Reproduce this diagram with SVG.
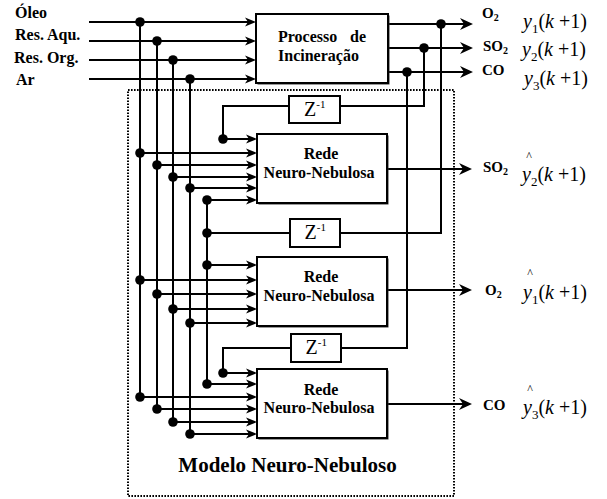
<svg xmlns="http://www.w3.org/2000/svg" width="607" height="499" viewBox="0 0 607 499">
<style>
.ln{stroke:#000;stroke-width:2;fill:none}
.box{fill:#fff;stroke:#000;stroke-width:2}
.sh{fill:#333}
.dot{fill:#000}
.b{font-family:"Liberation Serif",serif;font-weight:bold;font-size:16px;fill:#000}
.o{font-family:"Liberation Serif",serif;font-weight:bold;font-size:15px;fill:#000}
.m{font-family:"Liberation Serif",serif;font-size:20px;fill:#000}
.z{font-family:"Liberation Serif",serif;font-size:20px;fill:#000}
</style>
<defs>
<marker id="ai" markerUnits="userSpaceOnUse" viewBox="-12 -6 17 12" refX="-4" refY="0" markerWidth="17" markerHeight="12" orient="auto">
<path d="M-11,-4.5 L0,0 L-11,4.5 L-8,0 z" fill="#000"/>
</marker>
<marker id="ao" markerUnits="userSpaceOnUse" viewBox="-14 -7 19 14" refX="-4" refY="0" markerWidth="19" markerHeight="14" orient="auto">
<path d="M-13,-6 L0,0 L-13,6 L-9,0 z" fill="#000"/>
</marker>
</defs>
<rect width="607" height="499" fill="#fff"/>

<g id="modelo">
<rect x="128" y="90" width="326" height="406" fill="none" stroke="#000" stroke-width="2" stroke-dasharray="1.6 1.4"/>
<text class="b" x="287.5" y="472" text-anchor="middle" style="font-size:21px">Modelo Neuro-Nebuloso</text>
</g>

<g id="entradas">
<text class="b" x="15" y="18">Óleo</text>
<text class="b" x="15" y="40">Res. Aqu.</text>
<text class="b" x="14" y="63">Res. Org.</text>
<text class="b" x="16" y="85">Ar</text>
</g>

<g id="connectors">
<path class="ln" d="M89,22 H252" marker-end="url(#ai)"/>
<path class="ln" d="M89,41 H252" marker-end="url(#ai)"/>
<path class="ln" d="M89,60 H252" marker-end="url(#ai)"/>
<path class="ln" d="M89,79 H252" marker-end="url(#ai)"/>
<path class="ln" d="M140,22 V397 M157,41 V409 M173,60 V422 M190,79 V434"/>
<path class="ln" d="M207,200 V384"/>
<path class="ln" d="M289,106 H223 V139"/>
<path class="ln" d="M290,233 H207"/>
<path class="ln" d="M291,348 H223 V373"/>
<path class="ln" d="M223,139 H253" marker-end="url(#ai)"/>
<path class="ln" d="M140,153 H253" marker-end="url(#ai)"/>
<path class="ln" d="M157,165 H253" marker-end="url(#ai)"/>
<path class="ln" d="M173,177 H253" marker-end="url(#ai)"/>
<path class="ln" d="M190,188 H253" marker-end="url(#ai)"/>
<path class="ln" d="M207,200 H253" marker-end="url(#ai)"/>
<path class="ln" d="M207,265 H253" marker-end="url(#ai)"/>
<path class="ln" d="M140,280 H253" marker-end="url(#ai)"/>
<path class="ln" d="M157,294 H253" marker-end="url(#ai)"/>
<path class="ln" d="M173,309 H253" marker-end="url(#ai)"/>
<path class="ln" d="M190,323 H253" marker-end="url(#ai)"/>
<path class="ln" d="M223,373 H253" marker-end="url(#ai)"/>
<path class="ln" d="M207,384 H253" marker-end="url(#ai)"/>
<path class="ln" d="M140,397 H253" marker-end="url(#ai)"/>
<path class="ln" d="M157,409 H253" marker-end="url(#ai)"/>
<path class="ln" d="M173,422 H253" marker-end="url(#ai)"/>
<path class="ln" d="M190,434 H253" marker-end="url(#ai)"/>
<path class="ln" d="M388,24 H469" marker-end="url(#ao)"/>
<path class="ln" d="M388,48 H469" marker-end="url(#ao)"/>
<path class="ln" d="M388,72 H469" marker-end="url(#ao)"/>
<path class="ln" d="M441,24 V233 H340"/>
<path class="ln" d="M424,48 V106 H340"/>
<path class="ln" d="M407,72 V348 H341"/>
<path class="ln" d="M387,169 H468" marker-end="url(#ao)"/>
<path class="ln" d="M387,290 H468" marker-end="url(#ao)"/>
<path class="ln" d="M387,404 H468" marker-end="url(#ao)"/>
<g class="dot">
<circle cx="140" cy="22" r="4.8"/><circle cx="157" cy="41" r="4.8"/><circle cx="173" cy="60" r="4.8"/><circle cx="190" cy="79" r="4.8"/>
<circle cx="441" cy="24" r="4.8"/><circle cx="424" cy="48" r="4.8"/><circle cx="407" cy="72" r="4.8"/>
<circle cx="223" cy="139" r="4.8"/><circle cx="140" cy="153" r="4.8"/><circle cx="157" cy="165" r="4.8"/><circle cx="173" cy="177" r="4.8"/><circle cx="190" cy="188" r="4.8"/><circle cx="207" cy="200" r="4.8"/>
<circle cx="207" cy="233" r="4.8"/>
<circle cx="207" cy="265" r="4.8"/><circle cx="140" cy="280" r="4.8"/><circle cx="157" cy="294" r="4.8"/><circle cx="173" cy="309" r="4.8"/><circle cx="190" cy="323" r="4.8"/>
<circle cx="223" cy="373" r="4.8"/><circle cx="207" cy="384" r="4.8"/><circle cx="140" cy="397" r="4.8"/><circle cx="157" cy="409" r="4.8"/><circle cx="173" cy="422" r="4.8"/><circle cx="190" cy="434" r="4.8"/>
</g>
</g>

<g id="processo">
<rect class="sh" x="257.5" y="15.5" width="132" height="69"/>
<rect class="box" x="256" y="14" width="132" height="69"/>
<text class="b" x="278" y="42">Processo <tspan x="350">de</tspan></text>
<text class="b" x="278" y="61">Incineração</text>
</g>

<g id="z1">
<rect class="box" x="289" y="96" width="51" height="27"/>
<text class="z" x="304" y="116">Z<tspan dy="-8" style="font-size:11px">-1</tspan></text>
</g>
<g id="z2">
<rect class="box" x="290" y="219" width="50" height="28"/>
<text class="z" x="304.5" y="239">Z<tspan dy="-8" style="font-size:11px">-1</tspan></text>
</g>
<g id="z3">
<rect class="box" x="291" y="334" width="50" height="28"/>
<text class="z" x="305.5" y="354">Z<tspan dy="-8" style="font-size:11px">-1</tspan></text>
</g>

<g id="nn1">
<rect class="sh" x="258.5" y="135.5" width="130" height="69"/>
<rect class="box" x="257" y="134" width="130" height="69"/>
<text class="b" x="321" y="158.5" text-anchor="middle">Rede</text>
<text class="b" x="319" y="178" text-anchor="middle">Neuro-Nebulosa</text>
</g>
<g id="nn2">
<rect class="sh" x="258.5" y="258.5" width="130" height="69"/>
<rect class="box" x="257" y="257" width="130" height="69"/>
<text class="b" x="321" y="282" text-anchor="middle">Rede</text>
<text class="b" x="319" y="301" text-anchor="middle">Neuro-Nebulosa</text>
</g>
<g id="nn3">
<rect class="sh" x="258.5" y="370.5" width="130" height="69"/>
<rect class="box" x="257" y="369" width="130" height="69"/>
<text class="b" x="321" y="395" text-anchor="middle">Rede</text>
<text class="b" x="319" y="413" text-anchor="middle">Neuro-Nebulosa</text>
</g>

<g id="saidas">
<text class="o" x="482" y="18">O<tspan dy="3" style="font-size:10px">2</tspan></text>
<text class="o" x="483" y="51">SO<tspan dy="3" style="font-size:10px">2</tspan></text>
<text class="o" x="482" y="75">CO</text>
<text class="m" x="523" y="28"><tspan font-style="italic">y</tspan><tspan dy="5" style="font-size:13px">1</tspan><tspan dy="-5">(</tspan><tspan font-style="italic">k</tspan> +1)</text>
<text class="m" x="522" y="56"><tspan font-style="italic">y</tspan><tspan dy="5" style="font-size:13px">2</tspan><tspan dy="-5">(</tspan><tspan font-style="italic">k</tspan> +1)</text>
<text class="m" x="524" y="85"><tspan font-style="italic">y</tspan><tspan dy="5" style="font-size:13px">3</tspan><tspan dy="-5">(</tspan><tspan font-style="italic">k</tspan> +1)</text>

<text class="o" x="483" y="172">SO<tspan dy="3" style="font-size:10px">2</tspan></text>
<text class="o" x="485" y="295">O<tspan dy="3" style="font-size:10px">2</tspan></text>
<text class="o" x="483" y="410">CO</text>
<text class="m" x="529" y="160" text-anchor="middle" style="font-size:12px">^</text>
<text class="m" x="522" y="181"><tspan font-style="italic">y</tspan><tspan dy="5" style="font-size:13px">2</tspan><tspan dy="-5">(</tspan><tspan font-style="italic">k</tspan> +1)</text>
<text class="m" x="530" y="277" text-anchor="middle" style="font-size:12px">^</text>
<text class="m" x="523" y="299"><tspan font-style="italic">y</tspan><tspan dy="5" style="font-size:13px">1</tspan><tspan dy="-5">(</tspan><tspan font-style="italic">k</tspan> +1)</text>
<text class="m" x="530" y="393" text-anchor="middle" style="font-size:12px">^</text>
<text class="m" x="523" y="414"><tspan font-style="italic">y</tspan><tspan dy="5" style="font-size:13px">3</tspan><tspan dy="-5">(</tspan><tspan font-style="italic">k</tspan> +1)</text>
</g>
</svg>
